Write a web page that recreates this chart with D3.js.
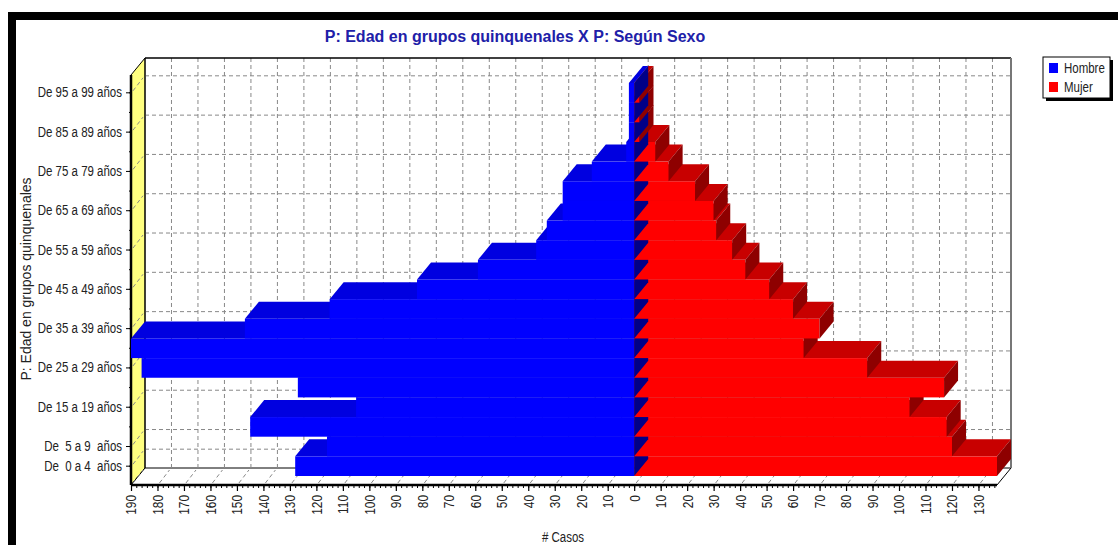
<!DOCTYPE html>
<html>
<head>
<meta charset="utf-8">
<script src="https://cdn.jsdelivr.net/npm/d3@7"></script>
<style>
  body { margin: 0; background: #fff; }
  svg { display: block; }
  text { font-family: "Liberation Sans", Arial, sans-serif; }
</style>
</head>
<body>
<div id="chart"></div>
<script>
// age groups, bottom to top
const categories = [
  "De  0 a 4  años", "De  5 a 9  años", "De 10 a 14 años", "De 15 a 19 años",
  "De 20 a 24 años", "De 25 a 29 años", "De 30 a 34 años", "De 35 a 39 años",
  "De 40 a 44 años", "De 45 a 49 años", "De 50 a 54 años", "De 55 a 59 años",
  "De 60 a 64 años", "De 65 a 69 años", "De 70 a 74 años", "De 75 a 79 años",
  "De 80 a 84 años", "De 85 a 89 años", "De 90 a 94 años", "De 95 a 99 años"
];
const hombre = [128, 116, 145, 105, 127, 186, 190, 147, 115, 82, 59, 37, 33, 27, 27, 16, 3, 2, 2, 2];
const mujer  = [137, 120, 118, 104, 117, 88, 64, 70, 60, 51, 42, 37, 31, 30, 23, 13, 8, 2, 2, 2];

// labels that the chart actually prints on the category axis
const yTickLabels = [
  "De  0 a 4  años", "De  5 a 9  años", "De 15 a 19 años", "De 25 a 29 años",
  "De 35 a 39 años", "De 45 a 49 años", "De 55 a 59 años", "De 65 a 69 años",
  "De 75 a 79 años", "De 85 a 89 años", "De 95 a 99 años"
];
const xTicks = d3.range(-190, 131, 10);
const xMinorTicks = d3.range(-190, 137, 2);

const series = [
  { name: "Hombre", color: "#0000ff" },
  { name: "Mujer", color: "#ff0000" }
];

const W = 1118, H = 545;
const dx = 14, dy = 17;          // depth offset of the 3d box
const left = 131, right = 997, floorY = 485, topY = 75;

// squeeze text horizontally (narrow font look)
function narrow(sel, f = 0.82) {
  sel.each(function () {
    const len = this.getComputedTextLength();
    d3.select(this).attr("textLength", len * f).attr("lengthAdjust", "spacingAndGlyphs");
  });
}

const svg = d3.select("#chart").append("svg")
  .attr("width", W).attr("height", H);

// outer frame
svg.append("rect").attr("x", 8).attr("y", 12).attr("width", W - 8).attr("height", 8).attr("fill", "#000");
svg.append("rect").attr("x", 8).attr("y", 12).attr("width", 8).attr("height", H - 12).attr("fill", "#000");

const x = d3.scaleLinear().domain([-190, 137]).range([left, right]);
const y = d3.scaleBand().domain(categories).range([476, 83]).paddingInner(0);
const bw = y.bandwidth();

// back wall
svg.append("rect")
  .attr("x", left + dx).attr("y", topY - dy)
  .attr("width", right - left).attr("height", floorY - topY)
  .attr("fill", "#fff");

// side wall (yellow)
svg.append("polygon")
  .attr("points", [[left, topY], [left + dx, topY - dy], [left + dx, floorY - dy], [left, floorY]].join(" "))
  .attr("fill", "#ffff80").attr("stroke", "#000").attr("stroke-width", 1);

// floor
svg.append("polygon")
  .attr("points", [[left, floorY], [right, floorY], [right + dx, floorY - dy], [left + dx, floorY - dy]].join(" "))
  .attr("fill", "#fff").attr("stroke", "#000").attr("stroke-width", 1);

const grid = svg.append("g")
  .attr("stroke", "#888").attr("stroke-width", 1).attr("stroke-dasharray", "4,3").attr("fill", "none");

// vertical grid on back wall + floor diagonals
xTicks.forEach(v => {
  if (v > -190) {
    grid.append("line")
      .attr("x1", x(v) + dx).attr("x2", x(v) + dx)
      .attr("y1", topY - dy).attr("y2", floorY - dy);
  }
  grid.append("line")
    .attr("x1", x(v) + 2).attr("y1", floorY - 2)
    .attr("x2", x(v) + dx - 2).attr("y2", floorY - dy + 2);
});

// horizontal grid on back wall + side wall diagonals
yTickLabels.forEach(c => {
  const yc = y(c) + bw / 2;
  grid.append("line")
    .attr("x1", left + dx).attr("x2", right + dx)
    .attr("y1", yc - dy).attr("y2", yc - dy);
  grid.append("line")
    .attr("x1", left + 2).attr("y1", yc - 2)
    .attr("x2", left + dx - 2).attr("y2", yc - dy + 2);
});

// back wall borders
svg.append("line").attr("x1", left + dx).attr("x2", right + dx)
  .attr("y1", topY - dy).attr("y2", topY - dy).attr("stroke", "#000").attr("stroke-width", 1.5);
svg.append("line").attr("x1", right + dx).attr("x2", right + dx)
  .attr("y1", topY - dy).attr("y2", floorY - dy).attr("stroke", "#777").attr("stroke-width", 2);
svg.append("line").attr("x1", left + dx).attr("x2", left + dx)
  .attr("y1", topY - dy).attr("y2", floorY - dy).attr("stroke", "#000").attr("stroke-width", 1);

// axes
const xAxisMinor = d3.axisBottom(x).tickValues(xMinorTicks).tickSize(3).tickSizeOuter(0).tickFormat("");
const xAxis = d3.axisBottom(x).tickValues(xTicks).tickSize(6).tickSizeOuter(0).tickFormat(d => Math.abs(d));

svg.append("g").attr("transform", `translate(0,${floorY})`).call(xAxisMinor)
  .call(g => g.select(".domain").remove());
const gx = svg.append("g").attr("transform", `translate(0,${floorY})`).call(xAxis);
gx.select(".domain").attr("d", `M${left},0H${right}`).attr("stroke-width", 2.5);
gx.selectAll(".tick line").attr("stroke-width", 1.2);
gx.selectAll("text")
  .attr("transform", "rotate(-90)")
  .attr("x", -10).attr("y", 0).attr("dy", "0.35em")
  .style("text-anchor", "end")
  .style("font-family", "'Liberation Sans', Arial, sans-serif")
  .style("font-size", "14px").attr("fill", "#222")
  .call(narrow, 0.85);

const yAxis = d3.axisLeft(y).tickValues(yTickLabels).tickSize(5).tickSizeOuter(0);
const gy = svg.append("g").attr("transform", `translate(${left},0)`).call(yAxis);
gy.select(".domain").attr("d", `M0,${topY}V${floorY}`).attr("stroke-width", 2.5);
gy.selectAll("text")
  .style("font-family", "'Liberation Sans', Arial, sans-serif")
  .style("font-size", "14px").style("white-space", "pre")
  .attr("fill", "#222").attr("x", -9)
  .call(narrow, 0.82);
// minor ticks on category axis
svg.append("g").selectAll("line").data(categories).join("line")
  .attr("x1", left - 2).attr("x2", left)
  .attr("y1", d => y(d) + bw / 2).attr("y2", d => y(d) + bw / 2)
  .attr("stroke", "#000");

// bars, bottom category first so upper bars cover lower top faces
const bars = svg.append("g");
categories.forEach((c, i) => {
  const T = y(c), B = T + bw, x0 = x(0);
  const g = bars.append("g");
  // Mujer
  const xr = x(mujer[i]);
  g.append("rect").attr("x", x0).attr("y", T).attr("width", xr - x0).attr("height", bw).attr("fill", "#ff0000");
  g.append("polygon").attr("points", [[x0, T], [xr, T], [xr + dx, T - dy], [x0 + dx, T - dy]].join(" ")).attr("fill", "#c80000");
  g.append("polygon").attr("points", [[xr, T], [xr + dx, T - dy], [xr + dx, B - dy], [xr, B]].join(" ")).attr("fill", "#8e0000");
  // Hombre
  const xl = x(-hombre[i]);
  g.append("rect").attr("x", xl).attr("y", T).attr("width", x0 - xl).attr("height", bw).attr("fill", "#0000ff");
  g.append("polygon").attr("points", [[xl, T], [x0, T], [x0 + dx, T - dy], [xl + dx, T - dy]].join(" ")).attr("fill", "#0000e0");
  g.append("polygon").attr("points", [[x0, T], [x0 + dx, T - dy], [x0 + dx, B - dy], [x0, B]].join(" ")).attr("fill", "#000088");
});

// title
svg.append("text")
  .attr("x", 515).attr("y", 42)
  .attr("text-anchor", "middle")
  .style("font-weight", "bold").style("font-size", "16px")
  .attr("fill", "#2020a8")
  .text("P: Edad en grupos quinquenales X P: Según Sexo");

// axis titles
svg.append("text")
  .attr("transform", "translate(31,279) rotate(-90)")
  .attr("text-anchor", "middle")
  .style("font-size", "14px")
  .attr("fill", "#222")
  .text("P: Edad en grupos quinquenales");
svg.append("text")
  .attr("x", 563).attr("y", 542)
  .attr("text-anchor", "middle")
  .style("font-size", "14px").attr("fill", "#222")
  .text("# Casos")
  .call(narrow, 0.82);

// legend
const lg = svg.append("g").attr("transform", "translate(1043,57)");
lg.append("rect").attr("x", 3).attr("y", 3).attr("width", 67).attr("height", 41).attr("fill", "#000");
lg.append("rect").attr("x", 0).attr("y", 0).attr("width", 67).attr("height", 41)
  .attr("fill", "#fff").attr("stroke", "#000").attr("stroke-width", 1);
const li = lg.selectAll(".item").data(series).join("g")
  .attr("class", "item")
  .attr("transform", (d, i) => `translate(6,${6 + i * 19})`);
li.append("rect").attr("width", 9).attr("height", 10).attr("fill", d => d.color);
li.append("text").attr("x", 15).attr("y", 10).style("font-size", "14px").attr("fill", "#222")
  .text(d => d.name)
  .call(narrow, 0.82);
</script>
</body>
</html>
